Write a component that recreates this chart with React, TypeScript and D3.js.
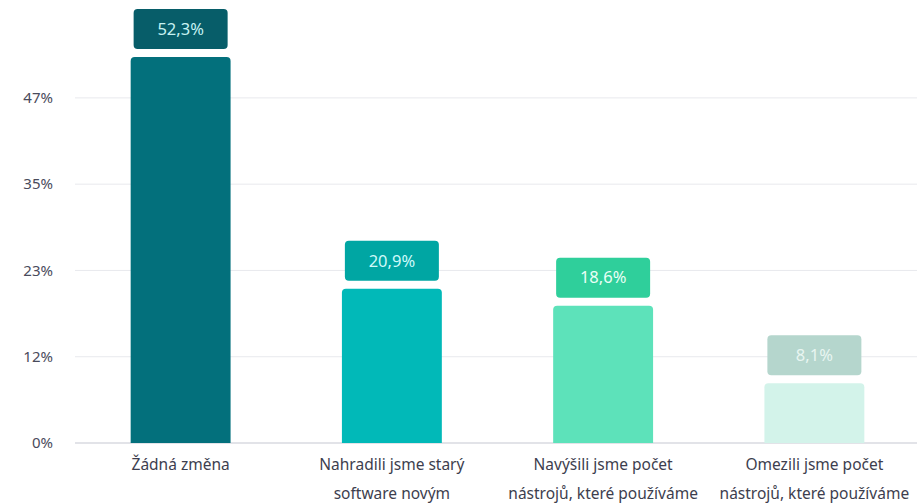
import React from "react";
import * as d3 from "d3";

const categories: string[][] = [
  ["Žádná změna"],
  ["Nahradili jsme starý", "software novým"],
  ["Navýšili jsme počet", "nástrojů, které používáme"],
  ["Omezili jsme počet", "nástrojů, které používáme"],
];
const values: number[] = [52.3, 20.9, 18.6, 8.1];
const valueLabels: string[] = ["52,3%", "20,9%", "18,6%", "8,1%"];
const barColors: string[] = ["#03707c", "#01b9b8", "#5de2ba", "#d3f3ea"];
const boxColors: string[] = ["#075d69", "#00a6a3", "#2fcf9b", "#b5d6cd"];
const boxTextColors: string[] = ["#c6f2f2", "#cffafa", "#e9fff6", "#e8f5f1"];
const tickValues: number[] = [0, 11.69, 23.38, 35.07, 46.76];
const tickLabels: string[] = ["0%", "12%", "23%", "35%", "47%"];

const W = 917;
const H = 504;
const FONT = "'Noto Sans', sans-serif";

export default function App() {
  const x = d3.scaleBand<number>().domain(d3.range(values.length)).range([75, 920]).padding(0);
  const y = d3.scaleLinear().domain([0, 52.3]).range([443, 57]);
  const barW = x.bandwidth() * 0.473;
  const boxW = 94;
  const boxH = 40;
  const r = 4;

  const topRounded = (x0: number, y0: number, w: number, h: number, rr: number) => {
    const p = d3.path();
    p.moveTo(x0, y0 + h);
    p.lineTo(x0, y0 + rr);
    p.arcTo(x0, y0, x0 + rr, y0, rr);
    p.lineTo(x0 + w - rr, y0);
    p.arcTo(x0 + w, y0, x0 + w, y0 + rr, rr);
    p.lineTo(x0 + w, y0 + h);
    p.closePath();
    return p.toString();
  };

  return (
    <div style={{ position: "absolute", left: 0, top: 0 }}>
      <svg width={W} height={H} style={{ display: "block", background: "#fff" }}>
        {tickValues.map((t, i) => (
          <g key={"t" + i}>
            <line
              x1={75}
              x2={W}
              y1={y(t)}
              y2={y(t)}
              stroke={i === 0 ? "#d8dae0" : "#e8e9ed"}
              strokeWidth={i === 0 ? 1.5 : 1}
            />
            <text
              x={53}
              y={y(t)}
              dy="0.35em"
              textAnchor="end"
              fontFamily={FONT}
              fontSize={15}
              fill="#4a4b5c"
            >
              {tickLabels[i]}
            </text>
          </g>
        ))}
        {values.map((v, i) => {
          const cx = (x(i) as number) + x.bandwidth() / 2;
          const top = y(v);
          return (
            <g key={"b" + i}>
              <path d={topRounded(cx - barW / 2, top, barW, y(0) - top, 4)} fill={barColors[i]} />
              <rect
                x={cx - boxW / 2}
                y={top - 8 - boxH}
                width={boxW}
                height={boxH}
                rx={r}
                fill={boxColors[i]}
              />
              <text
                x={cx}
                y={top - 8 - boxH / 2}
                dy="0.35em"
                textAnchor="middle"
                fontFamily={FONT}
                fontSize={16.5}
                fill={boxTextColors[i]}
              >
                {valueLabels[i]}
              </text>
              {categories[i].map((line, j) => (
                <text
                  key={j}
                  x={cx}
                  y={465 + j * 29}
                  dy="0.35em"
                  textAnchor="middle"
                  fontFamily={FONT}
                  fontSize={15.5}
                  fill="#3d3e4e"
                >
                  {line}
                </text>
              ))}
            </g>
          );
        })}
      </svg>
    </div>
  );
}
